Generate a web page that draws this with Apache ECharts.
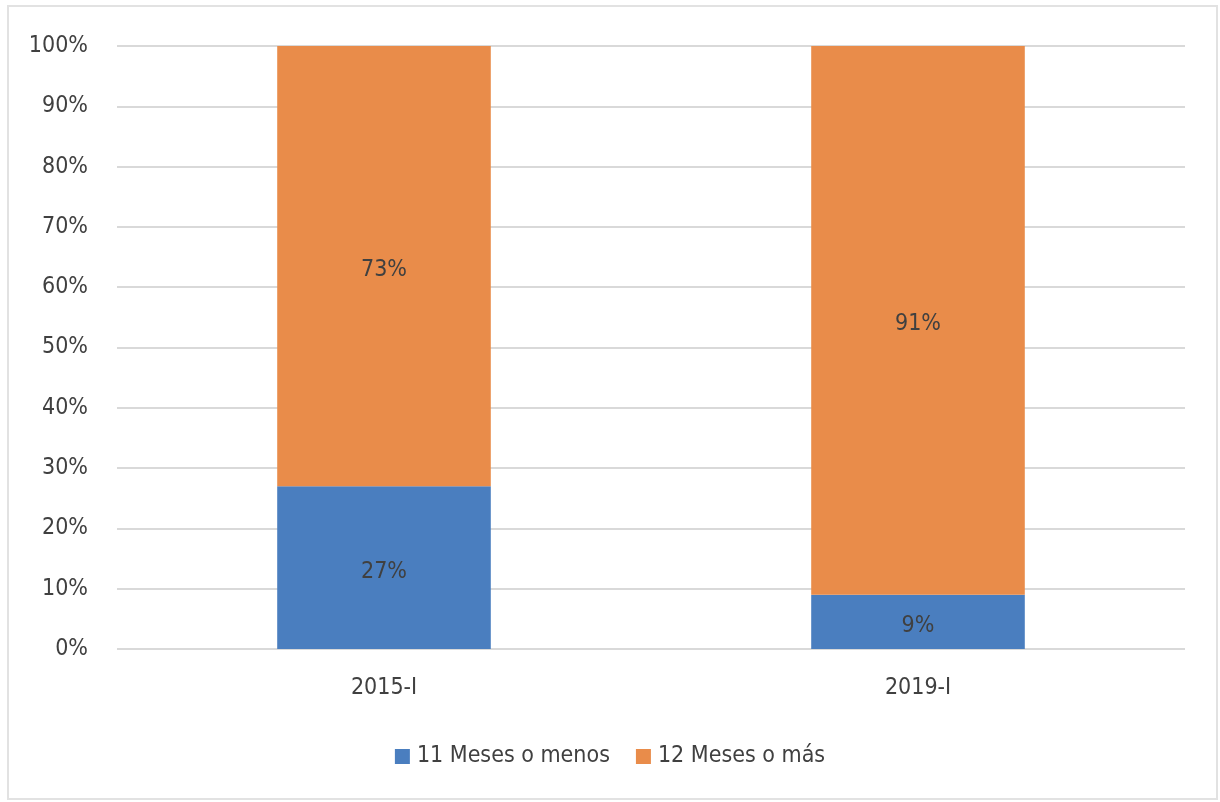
<!DOCTYPE html>
<html>
<head>
<meta charset="utf-8">
<script src="https://cdn.jsdelivr.net/npm/echarts@6/dist/echarts.min.js"></script>
<style>
  html, body { margin: 0; padding: 0; background: #ffffff; }
  #chart { width: 1220px; height: 802px; }
</style>
</head>
<body>
<div id="chart"></div>
<script>
// Periods compared
const categories = ['2015-I', '2019-I'];
// Share of workers by duration (percent)
const menos11 = [27, 9];
const mas12 = [73, 91];
const seriesNames = ['11 Meses o menos', '12 Meses o más'];
const yTicks = [0, 10, 20, 30, 40, 50, 60, 70, 80, 90, 100];

const FONT = '"Liberation Sans Narrow", "DejaVu Sans Condensed", "Arial Narrow", sans-serif';
const TEXT = '#404040';
const FS = 23;

const chart = echarts.init(document.getElementById('chart'), null, { renderer: 'canvas' });

const labelStyle = {
  show: true,
  position: 'inside',
  formatter: p => p.value + '%',
  color: TEXT,
  fontFamily: FONT,
  fontSize: FS,
  offset: [0, 4]
};

chart.setOption({
  backgroundColor: '#ffffff',
  animation: false,
  graphic: [{
    type: 'rect',
    shape: { x: 8, y: 6, width: 1209, height: 793 },
    style: { fill: 'none', stroke: '#e2e2e2', lineWidth: 2 },
    silent: true
  }],
  grid: { left: 117, right: 35, top: 46, bottom: 153 },
  legend: {
    bottom: 29,
    left: 'center',
    itemWidth: 15,
    itemHeight: 15,
    itemGap: 26,
    icon: 'rect',
    textStyle: { color: TEXT, fontFamily: FONT, fontSize: FS, padding: [0, 0, 0, 2] },
    data: seriesNames
  },
  xAxis: {
    type: 'category',
    data: categories,
    axisLine: { show: false },
    axisTick: { show: false },
    axisLabel: { color: TEXT, fontFamily: FONT, fontSize: FS, margin: 28 }
  },
  yAxis: {
    type: 'value',
    min: yTicks[0],
    max: yTicks[yTicks.length - 1],
    interval: yTicks[1] - yTicks[0],
    axisLine: { show: false },
    axisTick: { show: false },
    splitLine: { lineStyle: { color: '#d9d9d9', width: 2 } },
    axisLabel: {
      color: TEXT, fontFamily: FONT, fontSize: FS, margin: 29,
      formatter: v => v + '%'
    }
  },
  series: [
    {
      name: seriesNames[0],
      type: 'bar',
      stack: 'total',
      barWidth: '40%',
      data: menos11,
      itemStyle: { color: '#4a7ebf' },
      label: labelStyle
    },
    {
      name: seriesNames[1],
      type: 'bar',
      stack: 'total',
      barWidth: '40%',
      data: mas12,
      itemStyle: { color: '#e98c4a' },
      label: labelStyle
    }
  ]
});
</script>
</body>
</html>
